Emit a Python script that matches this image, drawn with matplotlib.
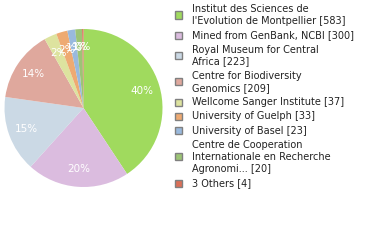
import matplotlib
matplotlib.use("Agg")
import matplotlib.pyplot as plt
from matplotlib.patches import Rectangle

# data
labels = ["Institut des Sciences de\nl'Evolution de Montpellier",
          "Mined from GenBank, NCBI",
          "Royal Museum for Central\nAfrica",
          "Centre for Biodiversity\nGenomics",
          "Wellcome Sanger Institute",
          "University of Guelph",
          "University of Basel",
          "Centre de Cooperation\nInternationale en Recherche\nAgronomi...",
          "3 Others"]
counts = [583, 300, 223, 209, 37, 33, 23, 20, 4]
colors = ["#a0da5e", "#dbbcdf", "#cbd9e5", "#dfa89d", "#dde39f",
          "#eeaa72", "#99b9dd", "#9cc475", "#db6f57"]

W, H = 380, 240
fig = plt.figure(figsize=(W / 100, H / 100), dpi=100)

# pie
cx, cy, r = 83.5, 108, 79
ax = fig.add_axes([(cx - r) / W, (H - cy - r) / H, 2 * r / W, 2 * r / H])
total = sum(counts)
pct = [f"{int(100 * c / total)}%" for c in counts]
wedges, texts = ax.pie(counts, colors=colors, startangle=90, counterclock=False,
                       labels=pct, labeldistance=0.77,
                       wedgeprops=dict(linewidth=0),
                       textprops=dict(color="white", fontsize=7.5,
                                      ha="center", va="center"))
ax.set_xlim(-1, 1)
ax.set_ylim(-1, 1)
ax.set_aspect("equal")
ax.axis("off")

# legend drawn by hand
line_h = 12.0
gap = 2.25
y = 15 - line_h / 2 * labels[0].count("\n") - line_h / 2
for lab, c, col in zip(labels, counts, colors):
    n = lab.count("\n") + 1
    yc = y + n * line_h / 2
    fig.patches.append(Rectangle(((174.5) / W, 1 - (yc + 3.5) / H), 7 / W, 7 / H,
                                 transform=fig.transFigure, facecolor=col,
                                 edgecolor="#808080", linewidth=1.0))
    fig.text(192 / W, 1 - yc / H, f"{lab} [{c}]", fontsize=7, color="#222222",
             ha="left", va="center", linespacing=1.22)
    y += n * line_h + gap

fig.savefig("out.png", dpi=100)
